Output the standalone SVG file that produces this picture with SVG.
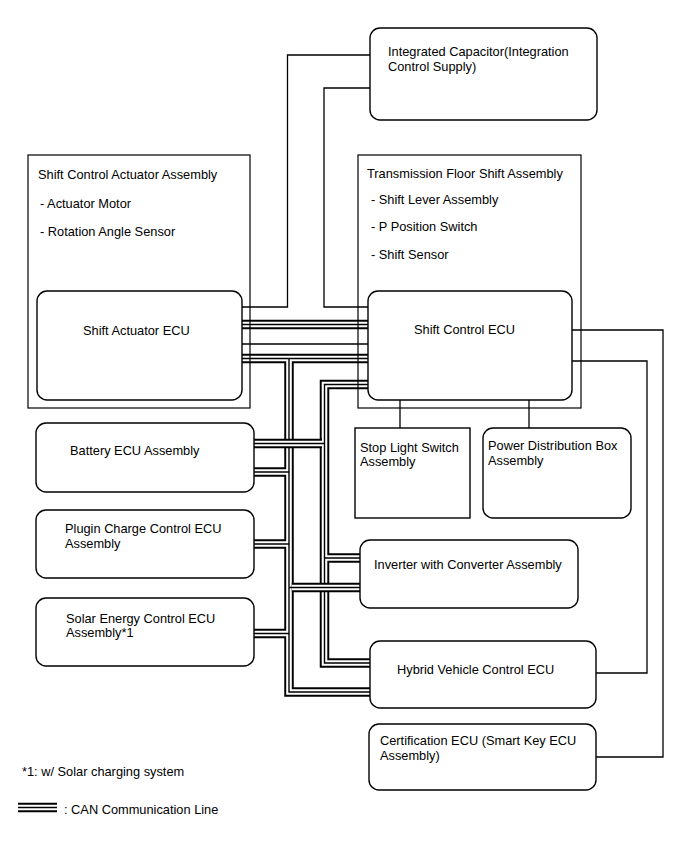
<svg xmlns="http://www.w3.org/2000/svg" width="688" height="852" viewBox="0 0 688 852">
<defs>
<style>
.box{fill:#fff;stroke:#000;stroke-width:1.4}
.frame{fill:none;stroke:#000;stroke-width:1.2}
.wire{fill:none;stroke:#000;stroke-width:1.3}
.cb{fill:none;stroke:#000;stroke-width:9.5}
.cw{fill:none;stroke:#fff;stroke-width:5.6}
.cc{fill:none;stroke:#000;stroke-width:1.4}
text{font-family:"Liberation Sans",Arial,sans-serif;font-size:12.8px;fill:#000}
</style>
<path id="busA" d="M242,324.5H368"/>
<path id="netC" d="M368,384.5H324.5V663H370M324.5,558H360"/>
<path id="netV" d="M242,358.5H368M289,358.5V692H370M254,472H289M254,544H289M254,633.5H289"/>
<path id="br443" d="M254,443.5H322"/>
<path id="br443c" d="M254,443.5H324.5"/>
<path id="br587" d="M291.8,587.5H360"/>
<path id="br587c" d="M289,587.5H360"/>
<path id="legendBus" d="M18,807.5H57"/>
</defs>
<rect width="688" height="852" fill="#fff"/>
<g id="connectors">
<path class="wire" d="M370,55H287.5V307H242"/>
<path class="wire" d="M370,88H324V307H368"/>
<path class="wire" d="M242,344H368"/>
<path class="wire" d="M400,400V428"/>
<path class="wire" d="M529,400V428"/>
<path class="wire" d="M572,330H663V757H596"/>
<path class="wire" d="M572,361H647V673H596"/>
<use href="#busA" class="cb"/><use href="#busA" class="cw"/><use href="#busA" class="cc"/>
<use href="#netC" class="cb"/><use href="#netC" class="cw"/><use href="#netC" class="cc"/>
<use href="#netV" class="cb"/><use href="#netV" class="cw"/><use href="#netV" class="cc"/>
<use href="#br443" class="cb"/><use href="#br443" class="cw"/><use href="#br443c" class="cc"/>
<use href="#br587" class="cb"/><use href="#br587" class="cw"/><use href="#br587c" class="cc"/>
</g>
<g id="integrated-capacitor">
<rect class="box" x="370" y="28" width="227" height="92" rx="10"/>
<text x="388" y="56">Integrated Capacitor(Integration</text>
<text x="388" y="71">Control Supply)</text>
</g>
<g id="shift-control-actuator-assembly">
<rect class="frame" x="28" y="155" width="222" height="253"/>
<text x="38" y="179">Shift Control Actuator Assembly</text>
<text x="40" y="208">- Actuator Motor</text>
<text x="40" y="236">- Rotation Angle Sensor</text>
</g>
<g id="shift-actuator-ecu">
<rect class="box" x="37" y="291" width="205" height="109" rx="10"/>
<text x="83" y="335">Shift Actuator ECU</text>
</g>
<g id="transmission-floor-shift-assembly">
<rect class="frame" x="358" y="155" width="223" height="253"/>
<text x="367" y="178">Transmission Floor Shift Assembly</text>
<text x="371" y="204">- Shift Lever Assembly</text>
<text x="371" y="231">- P Position Switch</text>
<text x="371" y="259">- Shift Sensor</text>
</g>
<g id="shift-control-ecu">
<rect class="box" x="368" y="291" width="204" height="109" rx="10"/>
<text x="414" y="334">Shift Control ECU</text>
</g>
<g id="battery-ecu-assembly">
<rect class="box" x="36" y="423" width="218" height="69" rx="10"/>
<text x="70" y="455">Battery ECU Assembly</text>
</g>
<g id="plugin-charge-control-ecu">
<rect class="box" x="36" y="510" width="218" height="68" rx="10"/>
<text x="65" y="533">Plugin Charge Control ECU</text>
<text x="65" y="548">Assembly</text>
</g>
<g id="solar-energy-control-ecu">
<rect class="box" x="36" y="598" width="218" height="68" rx="10"/>
<text x="66" y="623">Solar Energy Control ECU</text>
<text x="66" y="637">Assembly*1</text>
</g>
<g id="stop-light-switch-assembly">
<rect class="box" x="355" y="428" width="115" height="90"/>
<text x="360" y="452">Stop Light Switch</text>
<text x="360" y="466">Assembly</text>
</g>
<g id="power-distribution-box-assembly">
<rect class="box" x="483" y="428" width="148" height="90" rx="10"/>
<text x="488" y="450">Power Distribution Box</text>
<text x="488" y="465">Assembly</text>
</g>
<g id="inverter-with-converter-assembly">
<rect class="box" x="360" y="540" width="218" height="68" rx="10"/>
<text x="374" y="569">Inverter with Converter Assembly</text>
</g>
<g id="hybrid-vehicle-control-ecu">
<rect class="box" x="370" y="641" width="226" height="67" rx="10"/>
<text x="397" y="674">Hybrid Vehicle Control ECU</text>
</g>
<g id="certification-ecu">
<rect class="box" x="369" y="724" width="227" height="66" rx="10"/>
<text x="380" y="745">Certification ECU (Smart Key ECU</text>
<text x="380" y="760">Assembly)</text>
</g>
<g id="notes">
<text x="22" y="776">*1: w/ Solar charging system</text>
<use href="#legendBus" class="cb"/><use href="#legendBus" class="cw"/><use href="#legendBus" class="cc"/>
<text x="64" y="814">: CAN Communication Line</text>
</g>
</svg>
